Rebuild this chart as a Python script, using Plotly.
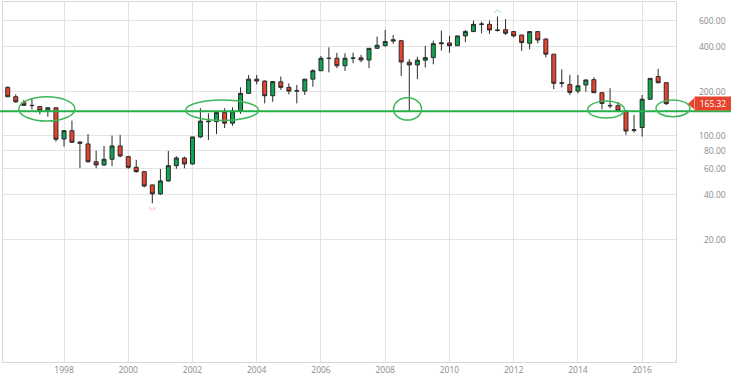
import math
import pandas as pd
import plotly.graph_objects as go

# ---- data (quarterly candles) ----
start_date = "1996-04-01"
open_ = [213, 184, 168, 161, 158, 148, 155, 95.4, 108.6, 91, 88.3, 67, 63.7, 69.6, 85.6,
         72.5, 61.4, 57.4, 46.7, 40.6, 49.7, 63, 71, 64.7, 98.5, 126, 125, 144, 122, 147.5,
         194, 242, 235, 187, 232, 213, 201, 201, 242, 276, 335, 335, 298, 335, 337, 326,
         391, 408, 447, 440, 315, 302, 325, 338, 420, 425, 407, 474, 507, 568, 568, 520,
         522, 507, 481, 423, 507, 452, 357, 227, 223, 201, 221, 240, 196, 161, 160, 147.5,
         109, 114, 177, 252, 229]
high = [216, 191, 175, 180, 159, 156, 156, 109, 127, 92, 103, 79.6, 85.6, 100.5, 101.6,
        73.5, 69, 58, 47, 59.8, 79.2, 73, 72.5, 99, 154, 142, 145, 154, 156, 213,
        258, 258, 237, 234, 252, 227, 221, 243, 282, 347, 397, 365, 362, 365, 353, 392,
        469, 520, 481, 445, 330, 343, 406, 440, 515, 474, 476, 520, 601, 592, 601, 640,
        615, 508, 482, 510, 510, 455, 358, 282, 258, 258, 240, 249, 197, 210, 170, 149,
        138.6, 189, 246, 284, 230]
low = [183, 168, 160, 151, 140, 135, 91.5, 84.7, 90, 60.5, 66, 60.5, 62.7, 62.7, 71.8,
       60, 56.5, 45, 35.1, 40, 49, 60, 60.5, 64, 97, 94, 103, 113, 117, 141,
       192, 223, 166, 170, 205, 191, 166, 189, 215, 274, 269, 287, 275, 310, 315, 287,
       388, 401, 420, 254, 147, 242, 290, 305, 377, 365, 405, 430, 505, 494, 489, 507,
       481, 464, 375, 385, 423, 340, 207, 213, 189, 194, 199, 195, 151, 154, 147, 101.6,
       105.3, 99, 175, 226, 162]
close = [184, 170, 161, 160.5, 148, 155, 95, 108.6, 90.7, 89.3, 67, 63.7, 69.6, 85.6, 73.2,
         61.4, 57.4, 45.9, 40.6, 49.7, 63, 71, 64.7, 98.5, 126, 125, 144, 122, 147.5, 194,
         242, 235, 187, 233, 213, 201, 202, 242, 276, 335, 334, 298, 335, 336, 326, 391,
         410, 434, 438, 316, 302, 325, 338, 420, 425, 407, 474, 507, 568, 570, 520, 517,
         494, 474, 427, 507, 445, 357, 227, 228, 197, 218, 239, 196, 166, 160, 148, 108,
         110, 177, 245, 229, 165.32]
dates = pd.date_range(start_date, periods=len(close), freq="QS")

support_level = 147
y_ticks = [20, 40, 60, 80, 100, 200, 400, 600]
y_tick_text = ["20.00", "40.00", "60.00", "80.00", "100.00", "200.00", "400.00", "600.00"]
last_label = "165.32"

# highlighted zones (date span, value span)
zones = [("1996-08-05", "1998-05-05", 126, 184),
         ("2001-10-15", "2004-01-22", 127, 175),
         ("2008-04-05", "2009-02-17", 128, 181),
         ("2014-04-22", "2015-06-14", 132, 172)]

# ---- layout constants ----
W, H = 731, 378
ML, MR, MT, MB = 3, 55, 2, 16
y_lo, y_hi = 0.473, 2.905
x_range = ["1996-02-07", "2017-01-20"]

GREEN = "#0ea54c"
RED = "#e5442f"
EDGE = "#2a2a2a"
LINE_G = "#26b04a"
TXT = "#8a8a8a"

pw = W - ML - MR

def ypaper(v):
    return (math.log10(v) - y_lo) / (y_hi - y_lo)

fig = go.Figure()
fig.add_trace(go.Candlestick(
    x=dates, open=open_, high=high, low=low, close=close,
    increasing=dict(line=dict(color=EDGE, width=1), fillcolor=GREEN),
    decreasing=dict(line=dict(color=EDGE, width=1), fillcolor=RED),
    whiskerwidth=0, showlegend=False, hoverinfo="skip",
))

# min / max markers
imax = max(range(len(high)), key=lambda i: high[i])
imin = min(range(len(low)), key=lambda i: low[i])
fig.add_trace(go.Scatter(x=[dates[imax]], y=[high[imax]], mode="text", text=["◠"],
                         textposition="top center",
                         textfont=dict(color="#3fbf6f", size=8, family="DejaVu Sans"),
                         showlegend=False, hoverinfo="skip"))
fig.add_trace(go.Scatter(x=[dates[imin]], y=[low[imin]], mode="text", text=["◡"],
                         textposition="bottom center",
                         textfont=dict(color="#f06a58", size=8, family="DejaVu Sans"),
                         showlegend=False, hoverinfo="skip"))

shapes = []
# support line across the whole width
shapes.append(dict(type="line", xref="paper", yref="paper", x0=-0.01, x1=1.09,
                   y0=ypaper(support_level), y1=ypaper(support_level),
                   line=dict(color=LINE_G, width=2)))
for x0, x1, v0, v1 in zones:
    shapes.append(dict(type="circle", xref="x", yref="y", x0=x0, x1=x1, y0=v0, y1=v1,
                       line=dict(color="#3db757", width=1.5)))
# last ellipse extends past the plot edge
shapes.append(dict(type="circle", xref="paper", yref="paper",
                   x0=(656 - ML) / pw, x1=(690 - ML) / pw,
                   y0=ypaper(135), y1=ypaper(175),
                   line=dict(color="#3db757", width=1.5)))
# pointer of the last-price tag
yl = ypaper(close[-1])
hh = 5.5 / (H - MT - MB)
shapes.append(dict(type="path", xref="paper", yref="paper",
                   path=f"M {(688-ML)/pw},{yl} L {(694-ML)/pw},{yl+hh} L {(694-ML)/pw},{yl-hh} Z",
                   fillcolor=RED, line=dict(width=0)))

# right-aligned price labels
annotations = []
for v, t in zip(y_ticks, y_tick_text):
    annotations.append(dict(xref="paper", yref="paper", x=(728 - ML) / pw, y=ypaper(v),
                            xanchor="right", yanchor="middle", text=t, showarrow=False,
                            font=dict(color=TXT, size=8.5, family="Open Sans")))
annotations.append(dict(xref="paper", yref="paper", x=(694 - ML) / pw, y=yl,
                        xanchor="left", yanchor="middle", text=last_label, showarrow=False,
                        bgcolor=RED, font=dict(color="white", size=8.5, family="Open Sans"),
                        borderpad=1, width=34))

fig.update_layout(
    width=W, height=H,
    margin=dict(l=ML, r=MR, t=MT, b=MB, autoexpand=False),
    paper_bgcolor="white", plot_bgcolor="white",
    font=dict(family="Open Sans", size=8.5, color=TXT),
    shapes=shapes,
    annotations=annotations,
    boxgap=0.28,
    xaxis=dict(type="date", range=x_range, rangeslider=dict(visible=False),
               tick0="1998-01-01", dtick="M24", tickformat="%Y",
               showgrid=True, gridcolor="#e3e3e3", gridwidth=1,
               showline=True, linecolor="#d8d8d8", mirror=True, ticks="",
               zeroline=False, automargin=False),
    yaxis=dict(type="log", range=[y_lo, y_hi], side="right",
               tickvals=y_ticks, showticklabels=False,
               showgrid=True, gridcolor="#e3e3e3", gridwidth=1,
               showline=True, linecolor="#d8d8d8", mirror=True, ticks="",
               zeroline=False, automargin=False),
)

fig.write_html("out.html", config={"displayModeBar": False},
               post_script="document.body.style.margin='0px';")
